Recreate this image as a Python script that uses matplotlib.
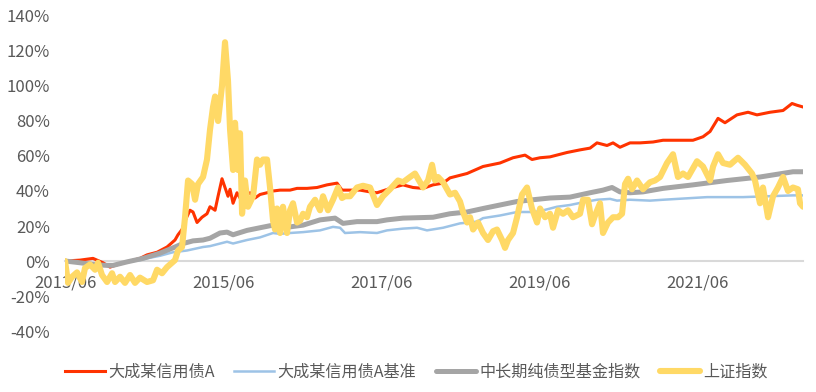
import matplotlib.pyplot as plt

plt.rcParams['font.family'] = ['Noto Sans CJK SC', 'DejaVu Sans']

# 时间轴: 距 2013/06 的年数
tick_pos = [0, 2, 4, 6, 8]
tick_labels = ['2013/06', '2015/06', '2017/06', '2019/06', '2021/06']
y_ticks = [-40, -20, 0, 20, 40, 60, 80, 100, 120, 140]

names = ['大成某信用债A', '大成某信用债A基准', '中长期纯债型基金指数', '上证指数']

# 大成某信用债A
fund_t = [0, 0.190, 0.354, 0.481, 0.570, 0.633, 0.785, 0.949, 1.038, 1.165, 1.291, 1.392, 1.430,
          1.481, 1.519, 1.582, 1.620, 1.671, 1.734, 1.797, 1.835, 1.899, 1.937, 1.987, 2.025,
          2.063, 2.089, 2.127, 2.177, 2.215, 2.278, 2.342, 2.405, 2.468, 2.557, 2.633, 2.722,
          2.848, 2.937, 3.063, 3.190, 3.316, 3.443, 3.506, 3.608, 3.734, 3.861, 3.949, 4.051,
          4.152, 4.278, 4.405, 4.532, 4.658, 4.785, 4.873, 5.089, 5.291, 5.506, 5.671, 5.823,
          5.911, 6.013, 6.139, 6.354, 6.519, 6.646, 6.734, 6.861, 6.937, 7.025, 7.152, 7.278,
          7.443, 7.570, 7.747, 7.949, 8.076, 8.165, 8.266, 8.354, 8.506, 8.646, 8.759, 8.924,
          9.089, 9.203, 9.266, 9.342]
fund_v = [0, 0.5, 1.5, -1, -3.5, -2.5, -0.5, 1.5, 3.5, 5, 8, 12, 15,
          18, 23, 29, 28, 22, 25, 27, 31, 29, 37, 47, 42,
          37, 41, 33, 39, 36, 37, 39, 36, 38, 39, 40, 40.5,
          40.5, 41.5, 41.5, 42, 43.5, 44.5, 40.5, 40.5, 40.5, 39.5, 39, 40.5,
          42, 43.5, 42, 41.5, 43.5, 44.5, 47.5, 50, 54, 56, 59, 60.5,
          58, 59, 59.5, 62, 63.5, 64.5, 67.5, 66, 67.5, 65, 67.5, 67.5,
          68, 69, 69, 69, 71, 74, 81.5, 79, 83.5, 85, 83.5, 85,
          86, 90, 89, 88]

# 大成某信用债A基准
bench_t = [0, 0.190, 0.354, 0.608, 0.785, 0.949, 1.038, 1.203, 1.367, 1.544, 1.747, 1.835,
           2.051, 2.127, 2.304, 2.468, 2.633, 2.722, 2.848, 3.013, 3.228, 3.392, 3.481, 3.544,
           3.734, 3.949, 4.076, 4.278, 4.456, 4.582, 4.785, 5.000, 5.215, 5.291, 5.506, 5.722,
           5.924, 6.013, 6.228, 6.392, 6.608, 6.734, 6.899, 6.987, 7.152, 7.405, 7.570, 8.127,
           8.582, 9.215, 9.342]
bench_v = [0, -1, -2, -2.5, -0.5, 0.5, 1.5, 3, 5, 6, 8, 8.5,
           11, 10, 12, 13.5, 16, 15.5, 16, 16.5, 17.5, 19.5, 19, 16,
           16.5, 16, 17.5, 18.5, 19, 17.5, 19, 21.5, 22.5, 24.5, 26, 28,
           28, 28.5, 31, 32, 34, 35, 35.5, 34.5, 35, 34.5, 35, 36.5,
           36.5, 37.5, 37.5]

# 中长期纯债型基金指数
bond_t = [0, 0.190, 0.354, 0.532, 0.608, 0.785, 0.987, 1.203, 1.367, 1.494, 1.620, 1.747,
          1.835, 1.962, 2.051, 2.127, 2.304, 2.468, 2.633, 2.722, 2.848, 3.013, 3.228, 3.418,
          3.519, 3.696, 3.949, 4.076, 4.278, 4.658, 4.873, 5.089, 5.291, 5.506, 5.722, 5.924,
          6.139, 6.392, 6.646, 6.810, 6.924, 7.025, 7.152, 7.316, 7.570, 7.949, 8.380, 8.797,
          9.215, 9.342]
bond_v = [0, -1, -2, -2.5, -2.5, -0.5, 1.5, 4.5, 7.5, 10, 11.5, 12,
          13, 16, 16.5, 15, 17.5, 19, 20.5, 21.5, 19.5, 20.5, 23.5, 24.5,
          21.5, 22.5, 22.5, 23.5, 24.5, 25, 27, 28, 30, 32, 34, 35,
          36, 36.5, 39, 40.5, 42, 39.5, 39, 39.5, 41.5, 43.5, 46, 48,
          51, 51]

# 上证指数
sh_t = [0, 0.038, 0.089, 0.152, 0.215, 0.253, 0.316, 0.380, 0.418, 0.468, 0.532, 0.595,
        0.633, 0.696, 0.759, 0.823, 0.886, 0.949, 1.038, 1.114, 1.165, 1.228, 1.291, 1.354,
        1.392, 1.430, 1.481, 1.519, 1.557, 1.608, 1.646, 1.684, 1.747, 1.797, 1.835, 1.873,
        1.899, 1.937, 1.987, 2.025, 2.063, 2.089, 2.127, 2.152, 2.190, 2.215, 2.241, 2.278,
        2.316, 2.380, 2.430, 2.468, 2.506, 2.557, 2.595, 2.633, 2.658, 2.684, 2.722, 2.759,
        2.810, 2.848, 2.886, 2.937, 2.975, 3.013, 3.063, 3.101, 3.165, 3.228, 3.266, 3.329,
        3.392, 3.456, 3.506, 3.544, 3.608, 3.696, 3.772, 3.861, 3.949, 4.025, 4.114, 4.215,
        4.278, 4.367, 4.430, 4.468, 4.532, 4.595, 4.646, 4.684, 4.722, 4.785, 4.873, 4.937,
        5.000, 5.038, 5.089, 5.127, 5.165, 5.228, 5.291, 5.354, 5.418, 5.468, 5.532, 5.570,
        5.608, 5.671, 5.722, 5.785, 5.848, 5.911, 5.975, 6.013, 6.076, 6.139, 6.177, 6.241,
        6.304, 6.367, 6.430, 6.519, 6.557, 6.620, 6.671, 6.709, 6.772, 6.810, 6.873, 6.937,
        7.000, 7.051, 7.089, 7.127, 7.177, 7.241, 7.316, 7.405, 7.468, 7.532, 7.620, 7.696,
        7.759, 7.823, 7.886, 8.000, 8.076, 8.165, 8.203, 8.266, 8.329, 8.418, 8.519, 8.608,
        8.696, 8.734, 8.797, 8.835, 8.899, 8.962, 9.025, 9.089, 9.152, 9.215, 9.278, 9.304,
        9.342]
sh_v = [0, -12.5, -9, -6.5, -12, -4, -2, -5, -1, -8, -12, -7,
        -12, -9, -12.5, -8, -12.5, -9.5, -12, -11, -5, -7, -3.5, -1,
        0.5, 6, 8, 25, 46, 44, 35, 44, 48, 58, 75, 88,
        94, 80, 100, 125, 103, 75, 52, 79, 52, 73, 27, 46,
        31, 37, 58, 55, 58, 58, 42, 23, 18, 30, 16, 31,
        16, 29, 33, 22, 23, 27, 25, 31, 35, 29, 37, 29,
        35, 42, 36, 37, 37, 42, 43, 42, 32, 37, 41, 46,
        45, 48, 50, 47, 42, 46, 55, 46, 48, 45, 38, 39,
        34, 28, 22, 25, 18, 22, 16, 12, 17, 18, 12, 7.5,
        12, 16, 25, 38, 42, 30, 22, 30, 25, 27, 19, 29,
        27, 29, 25, 27, 35, 35, 21, 26, 33, 16, 22, 25,
        25, 27, 44, 47, 41, 46, 41, 45, 46, 48, 56, 61,
        48, 50, 48, 57, 54, 46, 54, 61, 56, 55, 59, 55,
        50, 46, 33, 42, 25, 37, 42, 48, 40, 42, 41, 33,
        31]

fig = plt.figure(figsize=(8.16, 3.92), dpi=100)
ax = fig.add_axes([0.0797, 0.1556, 0.9044, 0.8036])

ax.plot(fund_t, fund_v, color='#FF3300', lw=2.2, zorder=3, solid_joinstyle='round', label=names[0])
ax.plot(bench_t, bench_v, color='#9DC3E6', lw=1.8, zorder=4, solid_joinstyle='round', label=names[1])
ax.plot(bond_t, bond_v, color='#A5A5A5', lw=3.6, zorder=5, solid_joinstyle='round',
        solid_capstyle='round', label=names[2])
ax.plot(sh_t, sh_v, color='#FFD966', lw=4.4, zorder=6, solid_joinstyle='round',
        solid_capstyle='round', label=names[3])

ax.set_xlim(0, 9.342)
ax.set_ylim(-40, 140)
ax.set_yticks(y_ticks)
ax.set_yticklabels([f'{v}%' for v in y_ticks])
ax.set_xticks(tick_pos)
ax.set_xticklabels(tick_labels)

for s in ['top', 'right', 'left']:
    ax.spines[s].set_visible(False)
ax.spines['bottom'].set_position(('data', 0))
ax.spines['bottom'].set_color('#D9D9D9')
ax.spines['bottom'].set_linewidth(1.5)
ax.tick_params(axis='both', length=0, labelsize=12, colors='#595959')
ax.tick_params(axis='x', pad=10)
ax.tick_params(axis='y', pad=11)

fig.legend(loc='lower center', bbox_to_anchor=(0.51, -0.008), ncol=4, frameon=False,
           fontsize=11.6, handlelength=2.5, handletextpad=0.2, columnspacing=1.2,
           labelcolor='#595959')

fig.savefig('out.png', dpi=100)
